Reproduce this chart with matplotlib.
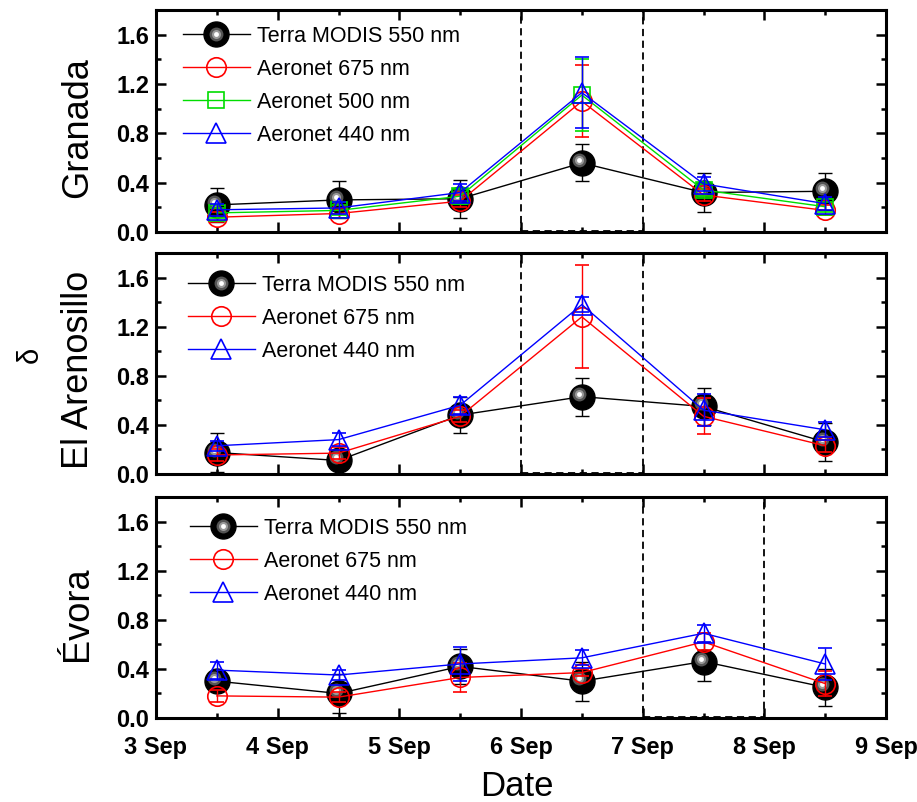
"""
Depolarizzazione delta a Granada, El Arenosillo ed Évora (3-9 settembre):
Terra MODIS 550 nm contro le bande Aeronet, con il riquadro tratteggiato
sul giorno dell'evento.
"""

from datetime import datetime

import matplotlib

matplotlib.use("Agg")
import matplotlib.dates as mdates
import matplotlib.pyplot as plt
from matplotlib.legend_handler import HandlerTuple
from matplotlib.lines import Line2D
from matplotlib.patches import Rectangle
from matplotlib.ticker import MultipleLocator
from matplotlib.transforms import offset_copy

plt.rcParams["font.family"] = ["Liberation Sans", "DejaVu Sans"]

# -----------------------------------------------------------------------
#  Dati
# -----------------------------------------------------------------------
DATES = [datetime(2007, 9, d, 12) for d in (3, 4, 5, 6, 7, 8)]

# Granada
GR_TERRA = [0.22, 0.26, 0.27, 0.56, 0.32, 0.33]
GR_TERRA_ERR = [0.14, 0.15, 0.155, 0.15, 0.16, 0.15]
GR_675 = [0.12, 0.15, 0.25, 1.06, 0.30, 0.175]
GR_675_ERR = [0.04, 0.04, 0.05, 0.29, 0.05, 0.04]
GR_500 = [0.155, 0.175, 0.29, 1.11, 0.34, 0.205]
GR_500_ERR = [0.04, 0.04, 0.06, 0.29, 0.05, 0.04]
GR_440 = [0.18, 0.195, 0.32, 1.13, 0.39, 0.23]
GR_440_ERR = [0.05, 0.05, 0.07, 0.29, 0.06, 0.05]

# El Arenosillo
EA_TERRA = [0.175, 0.11, 0.48, 0.63, 0.55, 0.26]
EA_TERRA_ERR = [0.155, 0.06, 0.15, 0.155, 0.15, 0.155]
EA_675 = [0.155, 0.17, 0.47, 1.28, 0.47, 0.23]
EA_675_ERR = [0.05, 0.05, 0.05, 0.42, 0.145, 0.05]
EA_440 = [0.23, 0.28, 0.56, 1.38, 0.52, 0.36]
EA_440_ERR = [0.04, 0.05, 0.07, 0.06, 0.13, 0.06]

# Évora
EV_TERRA = [0.30, 0.20, 0.42, 0.30, 0.46, 0.25]
EV_TERRA_ERR = [0.08, 0.16, 0.14, 0.16, 0.155, 0.15]
EV_675 = [0.18, 0.17, 0.33, 0.37, 0.62, 0.28]
EV_675_ERR = [0.05, 0.04, 0.12, 0.03, 0.07, 0.10]
EV_440 = [0.39, 0.35, 0.44, 0.49, 0.69, 0.44]
EV_440_ERR = [0.07, 0.04, 0.14, 0.06, 0.07, 0.13]

STATIONS = ["Granada", "El Arenosillo", "Évora"]
# giorno evidenziato dal riquadro tratteggiato
BOX_DAYS = [datetime(2007, 9, 6), datetime(2007, 9, 6), datetime(2007, 9, 7)]

LABEL_TERRA = "Terra MODIS 550 nm"
LABEL_675 = "Aeronet 675 nm"
LABEL_500 = "Aeronet 500 nm"
LABEL_440 = "Aeronet 440 nm"

OPEN_STYLES = {
    LABEL_675: dict(color="red", marker="o", ms=14),
    LABEL_500: dict(color="#00dd00", marker="s", ms=11),
    LABEL_440: dict(color="blue", marker="^", ms=14),
}

# sfumatura della "sfera" nera: (dimensione, colore)
SPHERE_SHADES = [(10, "#555555"), (6.5, "#9a9a9a"), (3.5, "white")]

FIG_W, FIG_H = 917, 802
AX_LEFT, AX_RIGHT = 156, 886
AX_ROWS = [(10, 232), (253, 474), (497, 718)]  # (top, bottom) in pixel
LEGEND_POS = [(183, 16), (188, 22), (190, 21)]  # angolo sup. sx in pixel


def sphere_handle():
    parts = [Line2D([], [], color="k", lw=1, marker="o", ms=18,
                    mfc="k", mec="k")]
    for size, col in SPHERE_SHADES:
        parts.append(Line2D([], [], ls="none", marker="o", ms=size,
                            mfc=col, mec="none"))
    return tuple(parts)


def draw_terra(fig, ax, values, errors):
    ax.errorbar(DATES, values, yerr=errors, color="k", lw=1,
                elinewidth=1, capsize=5, capthick=1, marker="o", ms=18,
                mfc="k", mec="k", zorder=2)
    shift = offset_copy(ax.transData, fig=fig, x=-3, y=3, units="dots")
    for j, (size, col) in enumerate(SPHERE_SHADES):
        ax.plot(DATES, values, ls="none", marker="o", ms=size, mfc=col,
                mec="none", transform=shift, zorder=2.1 + 0.1 * j)


def draw_open(ax, label, values, errors, z):
    st = OPEN_STYLES[label]
    ax.errorbar(DATES, values, yerr=errors, color=st["color"], lw=1,
                elinewidth=1, capsize=5, capthick=1, marker=st["marker"],
                ms=st["ms"], mfc="none", mec=st["color"], mew=1.2,
                zorder=z)


def style_axes(ax, show_dates):
    ax.set_xlim(datetime(2007, 9, 3), datetime(2007, 9, 9))
    ax.set_ylim(0, 1.8)
    ax.xaxis.set_major_locator(mdates.DayLocator())
    ax.xaxis.set_minor_locator(mdates.HourLocator(byhour=[12]))
    ax.xaxis.set_major_formatter(mdates.DateFormatter("%-d %b"))
    ax.yaxis.set_major_locator(MultipleLocator(0.4))
    ax.yaxis.set_minor_locator(MultipleLocator(0.2))
    ax.yaxis.set_major_formatter(lambda v, p: f"{v:.1f}")
    for spine in ax.spines.values():
        spine.set_linewidth(2.2)
    ax.tick_params(which="both", direction="in", top=True, right=True,
                   width=1.8)
    ax.tick_params(which="major", length=7)
    ax.tick_params(which="minor", length=3.5)
    ax.tick_params(axis="y", pad=5)
    ax.tick_params(axis="x", pad=13, labelbottom=show_dates)
    for t in ax.get_yticklabels():
        t.set_fontsize(17)
        t.set_fontweight("bold")
    for t in ax.get_xticklabels():
        t.set_fontsize(17)
        t.set_fontweight("bold")


fig = plt.figure(figsize=(FIG_W / 100, FIG_H / 100), dpi=100)

panels = [
    (GR_TERRA, GR_TERRA_ERR, [(LABEL_675, GR_675, GR_675_ERR),
                              (LABEL_500, GR_500, GR_500_ERR),
                              (LABEL_440, GR_440, GR_440_ERR)]),
    (EA_TERRA, EA_TERRA_ERR, [(LABEL_675, EA_675, EA_675_ERR),
                              (LABEL_440, EA_440, EA_440_ERR)]),
    (EV_TERRA, EV_TERRA_ERR, [(LABEL_675, EV_675, EV_675_ERR),
                              (LABEL_440, EV_440, EV_440_ERR)]),
]

for i, (terra, terra_err, aeronet) in enumerate(panels):
    top, bottom = AX_ROWS[i]
    ax = fig.add_axes([AX_LEFT / FIG_W, 1 - bottom / FIG_H,
                       (AX_RIGHT - AX_LEFT) / FIG_W, (bottom - top) / FIG_H])

    draw_terra(fig, ax, terra, terra_err)
    for k, (label, vals, errs) in enumerate(aeronet):
        draw_open(ax, label, vals, errs, 3 + k)

    x0 = mdates.date2num(BOX_DAYS[i])
    ax.add_patch(Rectangle((x0, 0.012), 1.0, 1.78, fill=False, ec="k",
                           lw=1.3, ls=(0, (4, 2.5)), zorder=1.5))

    style_axes(ax, show_dates=(i == 2))

    handles = [sphere_handle()]
    labels = [LABEL_TERRA]
    for label, _, _ in aeronet:
        st = OPEN_STYLES[label]
        handles.append(Line2D([], [], color=st["color"], lw=1,
                              marker=st["marker"], ms=st["ms"], mfc="none",
                              mec=st["color"], mew=1.2))
        labels.append(label)
    lx, ly = LEGEND_POS[i]
    ax.legend(handles, labels, loc="upper left",
              bbox_to_anchor=((lx - AX_LEFT) / (AX_RIGHT - AX_LEFT),
                              1 - ly / (bottom - top)),
              frameon=False, fontsize=15.5, borderpad=0, borderaxespad=0,
              handlelength=3.1, handletextpad=0.35, labelspacing=0.55,
              handler_map={tuple: HandlerTuple(ndivide=1)})

    fig.text(78 / FIG_W, 1 - (top + bottom) / 2 / FIG_H - 0.008,
             STATIONS[i], rotation=90, ha="center", va="center",
             fontsize=26)

fig.text(30 / FIG_W, 1 - 355 / FIG_H, "δ", rotation=90, ha="center",
         va="center", fontsize=21)
fig.text(517 / FIG_W, 1 - 787 / FIG_H, "Date", ha="center", va="center",
         fontsize=25)

fig.savefig("out.png", dpi=100)
